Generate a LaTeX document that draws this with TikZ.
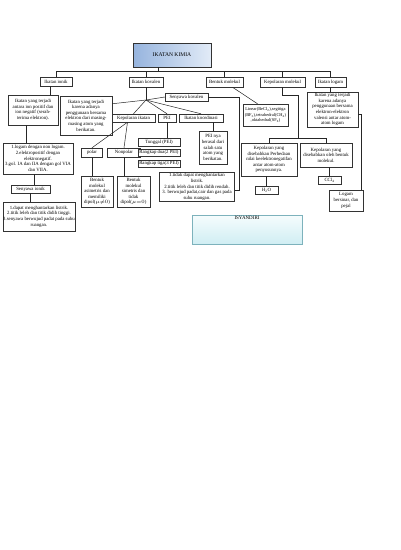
\documentclass[tikz,border=0pt]{standalone}
\usepackage{fontspec}
\setmainfont{Liberation Serif}
\usetikzlibrary{shadows}
\definecolor{tA}{RGB}{150,180,222}
\definecolor{tB}{RGB}{226,235,247}
\definecolor{iA}{RGB}{208,238,243}
\definecolor{iB}{RGB}{246,252,253}
\definecolor{iBd}{RGB}{125,178,188}
\newcommand{\fsz}{\fontsize{4.8}{5.6}\selectfont}
\begin{document}
\begin{tikzpicture}[x=1pt,y=-1pt,
  bx/.style={draw=black!80, line width=0.45pt, fill=white, align=center, inner sep=0.4pt, font=\fsz,
     drop shadow={shadow xshift=0.9pt, shadow yshift=-0.9pt, fill=black!55, opacity=0.8}},
  sz/.style 2 args={minimum width=#1pt, minimum height=#2pt},
  ln/.style={draw=black!85, line width=0.5pt}]
\useasboundingbox (0,0) rectangle (400,550);
\fill[white] (0,0) rectangle (400,550);

% title
\node[bx, sz={78}{24}, left color=tA, right color=tB, font=\fontsize{5.6}{6.5}\selectfont] (title) at (172,55) {IKATAN KIMIA};

% level 1
\node[bx, sz={32}{9}] (ionik) at (56,81.5) {Ikatan ionik};
\node[bx, sz={34}{10}] (kov) at (146,82) {Ikatan kovalen};
\node[bx, sz={37}{10}] (bentuk) at (224.5,82) {Bentuk molekul};
\node[bx, sz={45}{10}] (kepmol) at (282.5,82) {Kepolaran molekul};
\node[bx, sz={31}{10}] (logam) at (330.5,82) {Ikatan logam};

\coordinate (tj) at (158,71);
\draw[ln] (title.south -| tj) -- (tj);
\draw[ln] (tj -| ionik.north) -- (tj -| logam.north);
\foreach \n in {ionik,kov,bentuk,kepmol,logam}{\draw[ln] (tj -| \n.north) -- (\n.north);}

% ionik branch
\node[bx, sz={50}{30}] (ionikdesc) at (33,110) {Ikatan yang terjadi\\antara ion positif dan\\ion negatif (serah-\\terima elektron).};
\node[bx, sz={70}{31}] (ionsifat) at (38,158.5) {1.logam dengan non logam.\\2.elektropositif dengan\\elektronegatif.\\3.gol. IA dan IIA dengan gol VIA\\dan VIIA.};
\node[bx, sz={39}{8}] (senion) at (30.5,189) {Senyawa ionik};
\node[bx, sz={72}{29}] (senionsifat) at (39,216.5) {1.dapat menghantarkan listrik.\\2.titik leleh dan titik didih tinggi.\\3.senyawa berwujud padat pada suhu\\ruangan.};
\draw[ln] ([xshift=-6pt]ionik.south) -- ([xshift=-6pt]ionik.south |- ionikdesc.north);
\draw[ln] ([xshift=-7pt]ionikdesc.south) -- ([xshift=-7pt]ionikdesc.south |- ionsifat.north);
\draw[ln] ([xshift=4pt]senion.north) -- ([xshift=4pt]senion.north |- ionsifat.south);
\draw[ln] (senion.south) -- (senion.south |- senionsifat.north);

% kovalen branch
\node[bx, sz={52}{39}] (kovdesc) at (86,115.5) {Ikatan yang terjadi\\karena adanya\\penggunaan bersama\\elektron dari masing-\\masing atom yang\\berikatan.};
\node[bx, sz={43}{8}] (senkov) at (186.5,97) {Senyawa kovalen};
\node[bx, sz={43}{8}] (kepik) at (133.5,118) {Kepolaran ikatan};
\node[bx, sz={18}{8}] (pei) at (167,118) {PEI};
\node[bx, sz={44}{8}] (koord) at (201,118) {Ikatan koordinasi};
\coordinate (hub) at (146,100);
\draw[ln] (kov.south) -- (hub);
\draw[ln] (hub) -- ([yshift=-8pt]kovdesc.north east);
\draw[ln] (hub) -- (senkov.west);
\draw[ln] (hub) -- (kepik.north);
\draw[ln] (hub) -- (pei.north);
\draw[ln] (hub) -- (koord.north);

\node[bx, sz={21}{9}] (polar) at (92,152.5) {polar};
\node[bx, sz={33}{9}] (nonpolar) at (124,152.5) {Nonpolar};
\draw[ln] ([xshift=-6pt]kepik.south) -- (polar.north);
\draw[ln] ([xshift=-6pt]kepik.south) -- (nonpolar.north);
\node[bx, sz={32}{31}] (poldesc) at (97,191.5) {Bentuk\\molekul\\asimetris dan\\memiliki\\dipol($\mu{\neq}0$)};
\node[bx, sz={33}{31}] (nonpoldesc) at (133.5,191.5) {Bentuk\\molekul\\simetris dan\\tidak\\dipol($\mu{=}0$)};
\draw[ln] (polar.south) -- (polar.south |- poldesc.north);
\draw[ln] (nonpolar.south) -- (nonpolar.south |- nonpoldesc.north);

\node[bx, sz={42}{7.5}] (tunggal) at (159,142) {Tunggal (PEI)};
\node[bx, sz={42}{7.5}] (dua) at (159,152.5) {Rangkap dua(2 PEI)};
\node[bx, sz={42}{7.5}] (tiga) at (159,163.5) {Rangkap tiga(3 PEI)};
\draw[ln] (pei.south) -- (pei.south |- tunggal.north);

\node[bx, sz={28}{33}] (koorddesc) at (213,147.5) {PEI nya\\berasal dari\\salah satu\\atom yang\\berikatan.};
\draw[ln] (koorddesc.north) -- (koorddesc.north |- koord.south);

\node[bx, sz={75}{29}] (kovsifat) at (197,187) {1.tidak dapat menghantarkan\\listrik.\\2.titik leleh dan titik didih rendah.\\3. berwujud padat,cair dan gas pada\\suhu ruangan.};
\draw[ln] (senkov.east) -- ++(31,0) |- ([yshift=-3pt]kovsifat.east);

% bentuk molekul
\node[bx, sz={45}{22}, font=\fontsize{4.4}{5.4}\selectfont] (linear) at (265.5,115) {Linear(BeCl\textsubscript{2}),segitiga\\(BF\textsubscript{3}),tetrahedral(CH\textsubscript{4})\\,oktahedral(SF\textsubscript{6})};
\draw[ln] ([xshift=8pt]bentuk.south) -- ([xshift=-8pt]linear.north);

% kepolaran molekul
\node[bx, sz={56}{33}] (kepA) at (269,159.5) {Kepolaran yang\\disebabkan Perbedaan\\nilai keelektronegatifan\\antar atom-atom\\penyusunnya.};
\node[bx, sz={52}{24}] (kepB) at (326,155) {Kepolaran yang\\disebabkan oleh bentuk\\molekul.};
\coordinate (kepj) at (298,138);
\draw[ln] (kepmol.south) -- ++(0,8) -| (kepj);
\draw[ln] (kepA.north) -- ++(0,-5) -| (kepB.north);
\node[bx, sz={23}{8}] (h2o) at (266.5,190) {H\textsubscript{2}O};
\node[bx, sz={23}{8}] (ccl4) at (329.5,180) {CCl\textsubscript{4}};
\draw[ln] (h2o.north) -- (h2o.north |- kepA.south);
\draw[ln] (ccl4.north) -- (ccl4.north |- kepB.south);

% ikatan logam
\node[bx, sz={51}{35}] (logdesc) at (332.5,109.5) {Ikatan yang terjadi\\karena adanya\\penggunaan bersama\\elektron-elektron\\valensi antar atom-\\atom logam};
\node[bx, sz={34}{21}] (logam2) at (346,200.5) {Logam\\bersinar, dan\\pejal};
\draw[ln] (logam.south) -- (logam.south |- logdesc.north);
\draw[ln] ([yshift=-5pt]logdesc.east) -| ([xshift=-2pt]logam2.north east);

% ISYANDIRI
\node[draw=iBd, line width=0.6pt, top color=iB, bottom color=iA, sz={110}{29},
  drop shadow={shadow xshift=1pt, shadow yshift=-1pt, fill=black!45, opacity=0.7}] (isy) at (247,229.5) {};
\node[font=\fontsize{5}{6}\selectfont, below=0.6pt, inner sep=0.5pt] (isyt) at (isy.north) {ISYANDIRI};
\end{tikzpicture}
\end{document}
